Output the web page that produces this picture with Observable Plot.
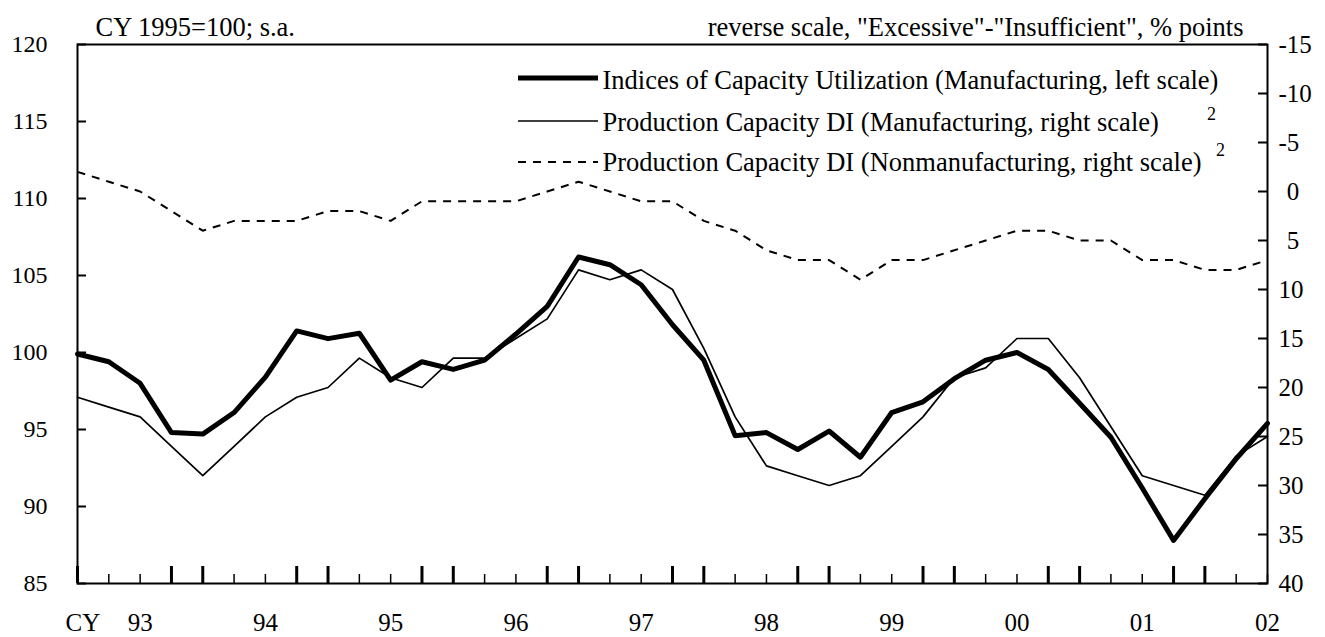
<!DOCTYPE html>
<html><head><meta charset="utf-8">
<script src="https://cdn.jsdelivr.net/npm/d3@7"></script>
<script src="https://cdn.jsdelivr.net/npm/@observablehq/plot@0.6"></script>
<style>
body{margin:0;background:#fff;}
#wrap{position:relative;width:1325px;height:637px;}
#legend{position:absolute;left:0;top:0;pointer-events:none;}
</style></head><body>
<div id="wrap"></div>
<script>
// ---- data ----
const years = ["93","94","95","96","97","98","99","00","01","02"];
const utilization = [99.9,99.4,98.0,94.8,94.7,96.1,98.4,101.4,100.9,101.25,98.2,99.4,98.9,99.5,101.2,103.0,106.2,105.7,104.4,101.8,99.5,94.6,94.8,93.7,94.9,93.2,96.1,96.8,98.3,99.5,100.0,98.9,96.7,94.5,91.2,87.8,90.5,93.1,95.4];
const diManuf = [21,22,23,26,29,26,23,21,20,17,19,20,17,17,15,13,8,9,8,10,16,23,28,29,30,29,26,23,19,18,15,15,19,24,29,30,31,27,25];
const diNonmanuf = [-2,-1,0,2,4,3,3,3,2,2,3,1,1,1,1,0,-1,0,1,1,3,4,6,7,7,9,7,7,6,5,4,4,5,5,7,7,8,8,7];
const leftTicks = [85,90,95,100,105,110,115,120];
const rightTicks = [-15,-10,-5,0,5,10,15,20,25,30,35,40];
const seriesNames = [
  "Indices of Capacity Utilization (Manufacturing, left scale)",
  "Production Capacity DI (Manufacturing, right scale)",
  "Production Capacity DI (Nonmanufacturing, right scale)"
];
const leftTitle = "CY 1995=100; s.a.";
const rightTitle = "reverse scale, \"Excessive\"-\"Insufficient\", % points";

// ---- layout ----
const W = 1325, H = 637, mL = 77, mR = 58, mT = 44, mB = 54;
const nQ = utilization.length;
const yMin = 85, yMax = 120, rMin = -15, rMax = 40;
const toLeft = v => yMax - (v - rMin) * (yMax - yMin) / (rMax - rMin);
const fromLeft = y => (yMax - y) * (rMax - rMin) / (yMax - yMin) + rMin;
const pxX = (W - mL - mR) / (nQ - 1);     // px per quarter
const pxY = (H - mT - mB) / (yMax - yMin); // px per left unit
const idx = d3.range(nQ);
const bigTicks = idx.filter(i => i % 4 === 0 || i % 4 === 3);
const smallTicks = idx.filter(i => i % 4 === 1 || i % 4 === 2);
const font = "'Liberation Serif','Times New Roman',serif";
const legendDy = [36, 78, 118];

const chart = Plot.plot({
  width: W, height: H,
  marginLeft: mL, marginRight: mR, marginTop: mT, marginBottom: mB,
  style: {fontFamily: font, fontSize: "24px", color: "#000", background: "#fff", overflow: "visible"},
  x: {domain: [0, nQ - 1], axis: null},
  y: {domain: [yMin, yMax], axis: null},
  marks: [
    Plot.frame({stroke: "#000", strokeWidth: 2}),
    // left axis
    Plot.axisY(leftTicks, {anchor: "left", tickSize: 0, tickPadding: 30, fontSize: 24}),
    Plot.ruleY(leftTicks, {y: d => d, x1: 0, x2: 9 / pxX, stroke: "#000", strokeWidth: 2}),
    // right axis (reverse scale)
    Plot.axisY(rightTicks.map(toLeft), {anchor: "right", tickSize: 0, tickPadding: 11, textAnchor: "start", fontSize: 25,
      tickFormat: y => { const v = Math.round(fromLeft(y)); return (v >= 0 && v < 10 ? "\u2004" : "") + v; }}),
    Plot.ruleY(rightTicks.map(toLeft), {y: d => d, x1: nQ - 1 - 9 / pxX, x2: nQ - 1, stroke: "#000", strokeWidth: 2}),
    // bottom ticks
    Plot.ruleX(bigTicks, {x: d => d, y1: yMin, y2: yMin + 17 / pxY, stroke: "#000", strokeWidth: 3}),
    Plot.ruleX(smallTicks, {x: d => d, y1: yMin, y2: yMin + 9 / pxY, stroke: "#000", strokeWidth: 1.5}),
    Plot.text(years, {x: (d, i) => 2 + 4 * i, frameAnchor: "bottom", dy: 39, text: d => d, lineAnchor: "middle", fontSize: 25}),
    Plot.text(["CY"], {frameAnchor: "bottom-left", dx: -12, dy: 39, text: d => d, lineAnchor: "middle", fontSize: 25}),
    // series
    Plot.line(diNonmanuf, {x: (d, i) => i, y: d => toLeft(d), stroke: "#000", strokeWidth: 2, strokeDasharray: "8,7", strokeLinecap: "butt"}),
    Plot.line(diManuf, {x: (d, i) => i, y: d => toLeft(d), stroke: "#000", strokeWidth: 1.7}),
    Plot.line(utilization, {x: (d, i) => i, y: d => d, stroke: "#000", strokeWidth: 5}),
    // titles
    Plot.text([leftTitle], {frameAnchor: "top-left", dx: 18, dy: -17, text: d => d, textAnchor: "start", lineAnchor: "middle", fontSize: 26.5}),
    Plot.text([rightTitle], {frameAnchor: "top-right", dx: -24, dy: -17, text: d => d, textAnchor: "end", lineAnchor: "middle", fontSize: 26.5}),
    // legend labels
    ...seriesNames.map((name, i) =>
      Plot.text([name], {frameAnchor: "top-left", dx: 525, dy: legendDy[i], text: d => d, textAnchor: "start", lineAnchor: "middle", fontSize: 26.5})),
    Plot.text(["2"], {frameAnchor: "top-left", dx: 1134, dy: 70, text: d => d, textAnchor: "middle", lineAnchor: "middle", fontSize: 18}),
    Plot.text(["2"], {frameAnchor: "top-left", dx: 1143, dy: 106, text: d => d, textAnchor: "middle", lineAnchor: "middle", fontSize: 18})
  ]
});
const wrap = document.getElementById("wrap");
wrap.appendChild(chart);

// legend swatches
const ns = "http://www.w3.org/2000/svg";
const sw = document.createElementNS(ns, "svg");
sw.setAttribute("id", "legend");
sw.setAttribute("width", W); sw.setAttribute("height", H);
const swatches = [
  {y: 78, w: 5, dash: null},
  {y: 121, w: 1.7, dash: null},
  {y: 162, w: 2, dash: "8,7"}
];
swatches.forEach(s => {
  const l = document.createElementNS(ns, "line");
  l.setAttribute("x1", 518); l.setAttribute("x2", 598);
  l.setAttribute("y1", s.y); l.setAttribute("y2", s.y);
  l.setAttribute("stroke", "#000"); l.setAttribute("stroke-width", s.w);
  if (s.dash) l.setAttribute("stroke-dasharray", s.dash);
  sw.appendChild(l);
});
wrap.appendChild(sw);
</script>
</body></html>
